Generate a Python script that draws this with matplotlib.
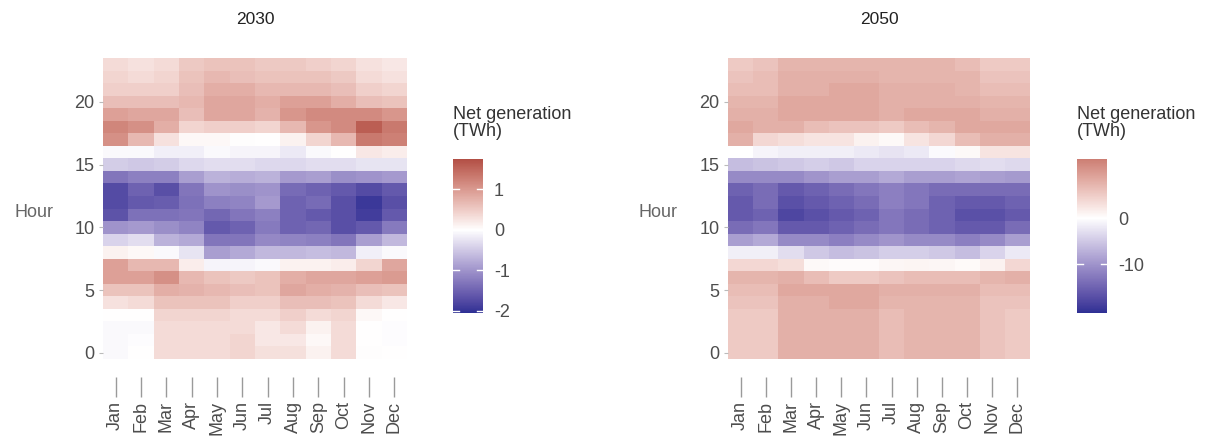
import numpy as np
import matplotlib
matplotlib.use("Agg")
import matplotlib.pyplot as plt
from matplotlib.colors import ListedColormap, Normalize, to_rgb

plt.rcParams['font.family'] = ['Liberation Sans', 'DejaVu Sans']

months = ["Jan", "Feb", "Mar", "Apr", "May", "Jun", "Jul", "Aug", "Sep", "Oct", "Nov", "Dec"]
hours = list(range(24))

# 2030 net generation (TWh), rows = hour 0..23, cols = Jan..Dec
net_2030 = [
    [-0.05, 0.00, 0.35, 0.35, 0.35, 0.40, 0.30, 0.30, 0.12, 0.35, 0.02, 0.00],   # 0
    [-0.05, -0.03, 0.35, 0.35, 0.35, 0.40, 0.23, 0.23, 0.06, 0.35, 0.00, -0.03], # 1
    [-0.05, -0.05, 0.35, 0.35, 0.35, 0.35, 0.23, 0.35, 0.12, 0.35, 0.00, -0.02], # 2
    [0.00, 0.00, 0.40, 0.40, 0.40, 0.35, 0.35, 0.46, 0.35, 0.40, 0.06, 0.00],    # 3
    [0.29, 0.35, 0.58, 0.58, 0.58, 0.46, 0.46, 0.63, 0.63, 0.58, 0.35, 0.23],    # 4
    [0.58, 0.58, 0.80, 0.75, 0.69, 0.63, 0.58, 0.86, 0.80, 0.75, 0.63, 0.58],    # 5
    [0.92, 0.92, 1.09, 0.69, 0.58, 0.52, 0.58, 0.80, 0.86, 0.86, 0.92, 0.98],    # 6
    [0.92, 0.69, 0.69, 0.17, -0.10, -0.10, -0.05, 0.12, 0.12, 0.17, 0.40, 0.86], # 7
    [0.12, 0.06, -0.05, -0.25, -0.90, -0.80, -0.65, -0.65, -0.60, -0.65, -0.15, -0.05],  # 8
    [-0.40, -0.30, -0.70, -0.80, -1.30, -1.30, -1.10, -1.15, -1.20, -1.30, -0.90, -0.65],  # 9
    [-1.00, -0.95, -1.05, -1.15, -1.60, -1.50, -1.25, -1.50, -1.45, -1.70, -1.60, -1.25],  # 10
    [-1.65, -1.35, -1.35, -1.30, -1.45, -1.30, -1.20, -1.50, -1.60, -1.70, -1.90, -1.60],  # 11
    [-1.75, -1.60, -1.55, -1.35, -1.20, -1.15, -0.95, -1.50, -1.40, -1.70, -1.95, -1.70],  # 12
    [-1.75, -1.50, -1.70, -1.30, -1.00, -1.05, -1.00, -1.40, -1.50, -1.60, -1.75, -1.60],  # 13
    [-1.30, -1.20, -1.20, -0.90, -0.70, -0.75, -0.70, -0.95, -0.90, -1.05, -1.00, -0.95],  # 14
    [-0.45, -0.50, -0.45, -0.35, -0.30, -0.30, -0.35, -0.35, -0.30, -0.30, -0.25, -0.25],  # 15
    [-0.05, -0.05, -0.15, -0.15, -0.05, -0.10, -0.10, -0.20, -0.05, 0.00, 0.23, 0.17],     # 16
    [1.09, 0.69, 0.29, 0.06, 0.06, 0.02, 0.00, 0.12, 0.40, 0.69, 1.32, 1.26],    # 17
    [1.20, 1.09, 0.80, 0.40, 0.46, 0.46, 0.40, 0.69, 1.03, 1.15, 1.60, 1.32],    # 18
    [0.92, 0.86, 0.86, 0.63, 0.86, 0.86, 0.75, 1.03, 1.15, 1.15, 1.15, 1.03],    # 19
    [0.63, 0.63, 0.63, 0.69, 0.86, 0.86, 0.80, 0.92, 0.92, 0.80, 0.63, 0.58],    # 20
    [0.46, 0.46, 0.46, 0.63, 0.80, 0.80, 0.69, 0.69, 0.69, 0.63, 0.46, 0.40],    # 21
    [0.40, 0.35, 0.40, 0.58, 0.69, 0.63, 0.58, 0.58, 0.58, 0.52, 0.35, 0.29],    # 22
    [0.35, 0.29, 0.35, 0.52, 0.58, 0.58, 0.52, 0.52, 0.46, 0.40, 0.29, 0.23],    # 23
]

# 2050 net generation (TWh)
net_2050 = [
    [5.2, 5.2, 7.8, 7.8, 7.8, 7.8, 6.5, 7.2, 7.2, 7.2, 5.8, 5.2],     # 0
    [5.2, 5.2, 7.8, 7.8, 7.8, 7.8, 6.5, 7.2, 7.2, 7.2, 5.8, 5.2],     # 1
    [5.2, 5.2, 7.8, 7.8, 7.8, 7.8, 6.5, 7.2, 7.2, 7.2, 5.8, 5.2],     # 2
    [5.2, 5.2, 7.8, 7.8, 7.8, 7.8, 6.5, 7.2, 7.2, 7.2, 5.8, 5.2],     # 3
    [5.8, 5.8, 7.8, 7.8, 8.5, 8.5, 7.2, 7.2, 7.2, 7.2, 5.8, 5.8],     # 4
    [6.5, 6.5, 8.5, 8.5, 8.5, 8.5, 7.8, 7.8, 7.8, 7.8, 6.5, 6.5],     # 5
    [7.2, 7.2, 7.8, 6.5, 5.2, 5.2, 5.8, 6.5, 6.5, 6.5, 7.2, 7.8],     # 6
    [3.9, 3.9, 3.2, 0.6, 0.3, 0.4, 0.8, 1.0, 0.8, 0.5, 1.3, 3.9],     # 7
    [-1.5, -1.5, -3.0, -5.0, -6.0, -5.5, -4.5, -4.5, -5.0, -6.0, -4.0, -2.0],          # 8
    [-9.0, -8.0, -11.0, -11.0, -12.0, -11.0, -10.0, -11.0, -11.0, -12.0, -11.0, -9.0],  # 9
    [-14.0, -13.0, -16.0, -16.0, -15.0, -14.0, -13.0, -14.0, -15.0, -16.0, -16.0, -14.0],  # 10
    [-16.0, -15.0, -18.0, -17.0, -16.0, -15.0, -13.0, -14.0, -15.0, -17.0, -17.0, -16.0],  # 11
    [-16.0, -14.0, -17.0, -16.0, -15.0, -14.0, -12.0, -13.0, -15.0, -16.0, -16.0, -15.0],  # 12
    [-15.0, -14.0, -16.0, -15.0, -14.0, -13.0, -12.0, -13.0, -14.0, -14.0, -14.0, -14.0],  # 13
    [-11.0, -11.0, -11.0, -10.0, -9.0, -9.0, -8.0, -9.0, -9.0, -8.5, -9.0, -9.5],         # 14
    [-6.0, -5.5, -5.0, -4.5, -5.0, -4.0, -4.0, -4.0, -4.0, -3.5, -3.0, -3.5],             # 15
    [0.0, -1.0, -1.5, -1.5, -1.5, -2.0, -2.5, -2.0, -0.5, 0.6, 2.6, 2.6],                 # 16
    [7.8, 3.9, 3.2, 2.6, 2.6, 1.3, 0.6, 2.6, 3.9, 6.5, 7.8, 7.8],     # 17
    [8.5, 7.8, 7.8, 6.5, 5.8, 5.8, 5.2, 6.5, 7.2, 8.5, 8.5, 8.5],     # 18
    [7.8, 7.8, 8.5, 8.5, 8.5, 8.5, 7.8, 8.5, 8.5, 8.5, 7.8, 7.8],     # 19
    [7.2, 7.2, 8.5, 8.5, 8.5, 8.5, 7.8, 7.8, 7.8, 7.8, 7.2, 7.2],     # 20
    [6.5, 6.5, 7.8, 7.8, 8.5, 8.5, 7.8, 7.8, 7.8, 7.2, 6.5, 6.5],     # 21
    [5.8, 6.5, 7.8, 7.8, 7.8, 7.8, 7.2, 7.2, 7.2, 7.2, 5.8, 5.8],     # 22
    [5.2, 5.8, 7.2, 7.2, 7.2, 7.2, 7.2, 7.2, 7.2, 6.5, 5.2, 5.2],     # 23
]

titles = ["2030", "2050"]
limits = [(-2.05, 1.75), (-20.6, 12.8)]
cbar_ticks = [[-2, -1, 0, 1], [-10, 0]]
ytick_vals = [0, 5, 10, 15, 20]

LOW = "#2e3094"
MID = "#ffffff"
HIGH = "#a02e2a"
TXT = "#4d4d4d"


# --- Lab interpolation (like ggplot's scale_fill_gradient2) ---
def _srgb_to_lin(c):
    c = np.asarray(c, float)
    return np.where(c <= 0.04045, c / 12.92, ((c + 0.055) / 1.055) ** 2.4)


def _lin_to_srgb(c):
    c = np.clip(c, 0, 1)
    return np.where(c <= 0.0031308, 12.92 * c, 1.055 * c ** (1 / 2.4) - 0.055)


_M = np.array([[0.4124, 0.3576, 0.1805], [0.2126, 0.7152, 0.0722], [0.0193, 0.1192, 0.9505]])
_WP = np.array([0.95047, 1.0, 1.08883])


def rgb_to_lab(rgb):
    xyz = _M @ _srgb_to_lin(rgb) / _WP
    f = np.where(xyz > 0.008856, np.cbrt(xyz), 7.787 * xyz + 16 / 116)
    return np.array([116 * f[1] - 16, 500 * (f[0] - f[1]), 200 * (f[1] - f[2])])


def lab_to_rgb(lab):
    L, a, b = lab
    fy = (L + 16) / 116
    fx = fy + a / 500
    fz = fy - b / 200
    f = np.array([fx, fy, fz])
    xyz = np.where(f ** 3 > 0.008856, f ** 3, (f - 16 / 116) / 7.787) * _WP
    lin = np.linalg.solve(_M, xyz)
    return _lin_to_srgb(lin)


def make_cmap(vmin, vmax, n=256):
    m = max(abs(vmin), abs(vmax))
    lo, mid, hi = rgb_to_lab(to_rgb(LOW)), rgb_to_lab(to_rgb(MID)), rgb_to_lab(to_rgb(HIGH))
    cols = []
    for v in np.linspace(vmin, vmax, n):
        t = v / m
        lab = mid + (hi - mid) * t if t >= 0 else mid + (lo - mid) * (-t)
        cols.append(lab_to_rgb(lab))
    return ListedColormap(np.clip(np.array(cols), 0, 1))


fig = plt.figure(figsize=(12.12, 4.4), dpi=100)
W, H = 1212, 440
PX = 72 / 100  # points per pixel

panels = [
    dict(ax=(103, 58, 304, 301), cb=(453, 159, 30, 154), title_x=255, hour_x=34),
    dict(ax=(728, 58, 302, 301), cb=(1077, 159, 30, 154), title_x=879, hour_x=658),
]

for i, (data, title) in enumerate(zip([net_2030, net_2050], titles)):
    p = panels[i]
    x0, y0, w, h = p["ax"]
    ax = fig.add_axes([x0 / W, 1 - (y0 + h) / H, w / W, h / H])
    vmin, vmax = limits[i]
    cmap = make_cmap(vmin, vmax)
    norm = Normalize(vmin, vmax)
    arr = np.array(data)
    mesh = ax.pcolormesh(np.arange(len(months) + 1) - 0.5, np.arange(len(hours) + 1) - 0.5,
                         arr, cmap=cmap, norm=norm, shading="flat")
    ax.set_xlim(-0.5, len(months) - 0.5)
    ax.set_ylim(-0.5, len(hours) - 0.5)
    ax.spines["bottom"].set_position(("outward", 18 * PX))
    for s in ax.spines.values():
        s.set_visible(False)
    ax.set_yticks(ytick_vals)
    ax.set_yticklabels([str(v) for v in ytick_vals])
    ax.tick_params(axis="y", length=3, width=0.8, color="#bbbbbb", pad=3, labelsize=13, labelcolor=TXT)
    ax.set_xticks(range(len(months)))
    ax.set_xticklabels(months)
    ax.tick_params(axis="x", length=20 * PX, width=1.0, color="#9a9a9a", pad=4 * PX,
                   labelsize=13, labelcolor=TXT, labelrotation=90)
    fig.text(p["title_x"] / W, 1 - 20 / H, title, ha="center", va="center", fontsize=12.5, color="#222222")
    fig.text(p["hour_x"] / W, 1 - 212 / H, "Hour", ha="center", va="center", fontsize=13, color="#666666")

    cx, cy, cw, ch = p["cb"]
    cax = fig.add_axes([cx / W, 1 - (cy + ch) / H, cw / W, ch / H])
    cb = fig.colorbar(mesh, cax=cax, ticks=cbar_ticks[i])
    cb.outline.set_visible(False)
    cax.tick_params(length=0, labelsize=13, labelcolor=TXT, pad=8)
    cax.set_yticklabels([str(t) for t in cbar_ticks[i]])
    for t in cbar_ticks[i]:
        cax.plot([0, 0.2], [t, t], color="white", lw=1, transform=cax.get_yaxis_transform())
        cax.plot([0.8, 1.0], [t, t], color="white", lw=1, transform=cax.get_yaxis_transform())
    fig.text(cx / W, 1 - 106 / H, "Net generation\n(TWh)", ha="left", va="top",
             fontsize=13, color="#333333", linespacing=1.0)

fig.savefig("out.png", dpi=100)
